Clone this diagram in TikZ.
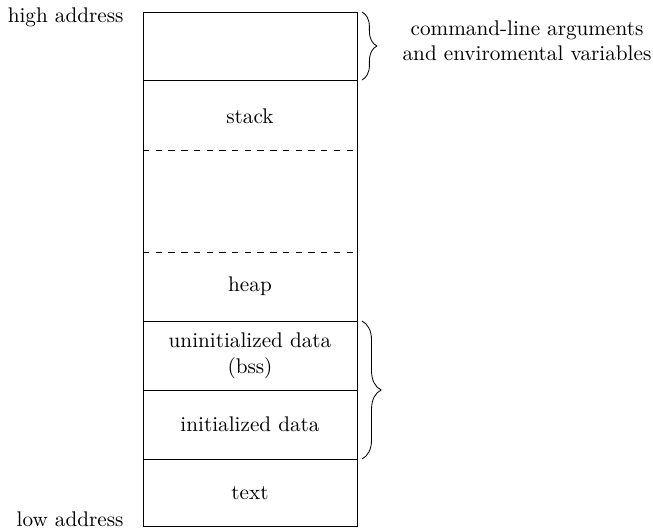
\documentclass[tikz,border=0pt]{standalone}
\usetikzlibrary{decorations.pathreplacing}

\begin{document}
\begin{tikzpicture}[x=0.4717pt, y=-0.4717pt]
  \useasboundingbox (0,0) rectangle (653,529);
  \tikzset{
    seg/.style={align=center},
    addr/.style={anchor=east},
    brc/.style={decorate, decoration={brace, amplitude=#1}}
  }

  % outer frame
  \coordinate (tl) at (143,12);
  \coordinate (br) at (357,526);
  \draw (tl) rectangle (br);

  % segment borders
  \draw (143,80) -- (357,80);
  \draw[dashed] (143,150) -- (357,150);
  \draw[dashed] (143,252) -- (357,252);
  \draw (143,321) -- (357,321);
  \draw (143,390) -- (357,390);
  \draw (143,459) -- (357,459);

  % segment labels
  \node[seg] (stack) at (250,116) {stack};
  \node[seg] (heap) at (250,286) {heap};
  \node[seg] (bss) at (250,356) {uninitialized data\\(bss)};
  \node[seg] (data) at (250,424) {initialized data};
  \node[seg] (text) at (250,493) {text};

  % addresses
  \node[addr] (high) at (131,17) {high address};
  \node[addr] (low) at (131,519) {low address};

  % braces
  \draw[brc=7pt] (362,12) -- (362,80);
  \node[seg] (args) at (527,41) {command-line arguments\\and enviromental variables};
  \draw[brc=9pt] (362,321) -- (362,459);
\end{tikzpicture}
\end{document}
